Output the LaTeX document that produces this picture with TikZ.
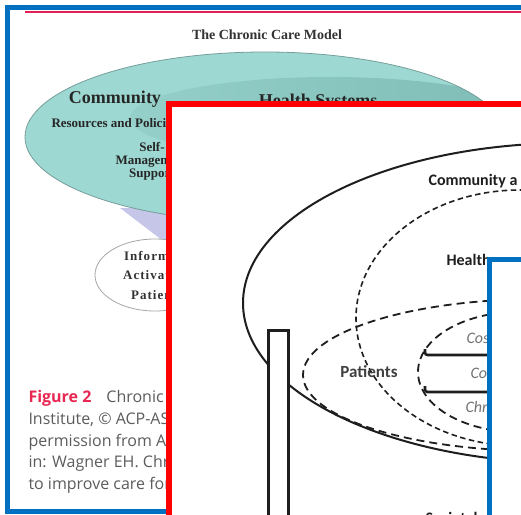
\documentclass[tikz,border=0pt]{standalone}
\usepackage{fontspec}
\setmainfont{Liberation Serif}
\newfontfamily\capfont{Open Sans}
\newfontfamily\labfont{Carlito}
\newfontfamily\spacedfont[LetterSpace=8]{Liberation Serif}

\definecolor{frameblue}{RGB}{0,112,192}
\definecolor{framered}{RGB}{255,0,0}
\definecolor{rulepink}{RGB}{226,34,86}
\definecolor{cmteal}{RGB}{158,216,210}
\definecolor{cmtealdark}{RGB}{126,188,181}
\definecolor{cmedge}{RGB}{118,158,154}
\definecolor{wedgelilac}{RGB}{198,198,232}
\definecolor{figred}{RGB}{232,40,82}
\definecolor{captext}{RGB}{92,92,92}
\definecolor{inkdark}{RGB}{30,30,30}

\tikzset{
  panelblue/.style={draw=frameblue, line width=5pt, fill=white},
  panelred/.style={draw=framered, line width=6pt, fill=white},
  serifbold/.style={font=\bfseries\fontsize{#1}{#1}\selectfont, text=black!85},
  caption/.style={anchor=base west, font=\capfont\fontsize{16}{16}\selectfont, text=captext},
  ringlabel/.style={font=\labfont\bfseries\fontsize{16}{16}\selectfont, text=inkdark},
  corelabel/.style={anchor=base west, font=\labfont\itshape\fontsize{16}{16}\selectfont, text=black!55},
  longdash/.style={draw=inkdark, line width=1.8pt, dash pattern=on 8pt off 5pt},
  shortdash/.style={draw=inkdark, line width=1.6pt, dash pattern=on 5.5pt off 3.5pt},
}

\begin{document}
\begin{tikzpicture}[x=1pt, y=-1pt]
\useasboundingbox (0,0) rectangle (521,514);
\clip (0,0) rectangle (521,514);
\fill[white] (0,0) rectangle (521,514);

% ---------- back page: the Chronic Care Model figure ----------
\draw[panelblue] (7.5,7.5) rectangle (640,511);
\draw[rulepink, line width=2pt] (25,12) -- (560,12);

\node[serifbold=14, text=black!80] (title) at (267,35) {The Chronic Care Model};

% wedge between the system ellipse and the patient ellipse
\fill[wedgelilac] (120,208) -- (230,208) -- (175,250) -- cycle;

% community / health system ellipse
\fill[cmteal] (265,137) ellipse [x radius=240pt, y radius=85pt];
\begin{scope}
  \clip (265,137) ellipse [x radius=240pt, y radius=85pt];
  \shade[left color=cmteal!70!cmtealdark, right color=cmtealdark] (330,118) ellipse [x radius=200pt, y radius=41pt];
\end{scope}
\draw[cmedge, line width=0.8pt] (265,137) ellipse [x radius=240pt, y radius=85pt];

\node[serifbold=18, anchor=base] (community) at (115,103) {Community};
\node[serifbold=18, anchor=base] (hsys) at (318,106) {Health Systems};
\node[serifbold=13, anchor=base west] (resources) at (48,127) {Resources and Policies};
\node[serifbold=13, align=center] (selfmgmt) at (152,161)
  {Self-\\Management\\Support};

% informed, activated patient
\draw[gray!70, line width=0.8pt, fill=white] (155,275) ellipse [x radius=60pt, y radius=36pt];
\node[font=\spacedfont\bfseries\fontsize{13}{19.5}\selectfont, text=black!80, align=center]
  (patient) at (154,275) {Informed\\Activated\\Patient};

% figure caption
\node[caption] (cap1) at (25,402) {\textcolor{figred}{\bfseries Figure 2}\hspace{15pt}Chronic};
\node[caption] (cap2) at (25,424) {Institute, © ACP-AS};
\node[caption] (cap3) at (25,446) {permission from AC};
\node[caption] (cap4) at (25,467) {in: Wagner EH. Chr};
\node[caption] (cap5) at (25,489) {to improve care for};

% ---------- middle page: nested rings ----------
\draw[panelred] (169,104) rectangle (660,660);

\draw[inkdark, line width=2pt] (570,303) ellipse [x radius=327pt, y radius=160pt];
\draw[shortdash] (520,318) ellipse [x radius=164pt, y radius=128pt];
\draw[longdash] (540,375) ellipse [x radius=237pt, y radius=76pt];
\draw[longdash] (518,372) ellipse [x radius=100pt, y radius=60pt];

% pillar
\draw[inkdark, line width=3pt, fill=white] (268,330) rectangle (288,560);

% bracket lines in the core
\draw[inkdark, line width=2.6pt, rounded corners=2.5pt] (425,349) -- (425,355) -- (510,355);
\draw[inkdark, line width=2.6pt, rounded corners=2.5pt] (425,386) -- (425,392) -- (510,392);

\node[ringlabel, anchor=base west] (outerlab) at (425,185) {Community a};
\node[ringlabel, anchor=base west] (healthlab) at (443,265) {Health};
\node[font=\labfont\bfseries\fontsize{17}{17}\selectfont, text=black!75] (patientslab) at (369,372) {Patients};
\node[corelabel] (core1) at (463,343) {Cos};
\node[corelabel] (core2) at (467,378) {Cop};
\node[corelabel] (core3) at (462,412) {Chr};
\node[ringlabel, anchor=base west] (bottomlab) at (422,523) {Societal};

% ---------- front page ----------
\draw[panelblue] (489.5,259.5) rectangle (660,660);
\end{tikzpicture}
\end{document}
